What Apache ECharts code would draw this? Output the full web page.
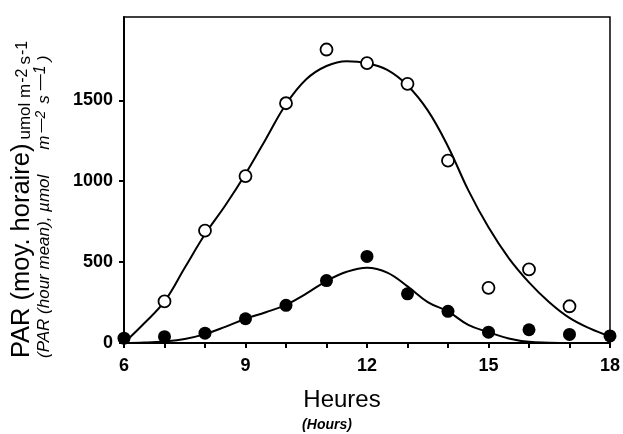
<!DOCTYPE html>
<html>
<head>
<meta charset="utf-8">
<script src="https://cdn.jsdelivr.net/npm/echarts@6/dist/echarts.min.js"></script>
<style>
  html, body { margin: 0; padding: 0; background: #fff; }
  #chart { width: 623px; height: 434px; }
</style>
</head>
<body>
<div id="chart"></div>
<script>
const hours = [6, 7, 8, 9, 10, 11, 12, 13, 14, 15, 16, 17, 18]
const openHours = [7, 8, 9, 10, 11, 12, 13, 14, 15, 16, 17]
const openPar = [257, 695, 1032, 1482, 1814, 1730, 1602, 1127, 341, 455, 227]
const filledPar = [30, 39, 61, 150, 233, 386, 535, 304, 196, 67, 82, 53, 44]

// fitted curves, read every half hour
const curveHours = [6, 6.5, 7, 7.5, 8, 8.5, 9, 9.5, 10, 10.5, 11, 11.5, 12,
  12.5, 13, 13.5, 14, 14.5, 15, 15.5, 16, 16.5, 17, 17.5, 18]
const openCurve = [0, 122, 257, 465, 672, 850, 1045, 1260, 1476, 1630, 1712, 1742, 1730,
  1688, 1592, 1438, 1215, 945, 715, 525, 375, 252, 155, 90, 40]
const filledCurve = [0, 3, 10, 25, 55, 100, 150, 190, 236, 305, 383, 440, 465,
  435, 350, 253, 195, 112, 67, 28, 7, 2, 0, 0, 0]

// axis ticks
const xLabelHours = [6, 9, 12, 15, 18]
const yTicks = [0, 500, 1000, 1500]

const zip = (xs, ys) => xs.map((x, i) => [x, ys[i]])

// measure text so the rotated title pieces can be laid out one after another
const ctx = document.createElement('canvas').getContext('2d')
const measure = (text, size, italic) => {
  ctx.font = `${italic ? 'italic ' : ''}${size}px "Liberation Sans"`
  return ctx.measureText(text).width
}

// vertical (bottom to top) run of text pieces sharing a baseline at baseX
function rotatedRun(parts, startY, baseX) {
  let y = startY
  return parts.map(p => {
    const el = {
      type: 'text',
      x: baseX - 0.33 * p.size - (p.raise || 0),
      y: y,
      rotation: Math.PI / 2,
      style: {
        text: p.text,
        align: 'left',
        verticalAlign: 'middle',
        fill: '#000',
        fontFamily: 'Liberation Sans',
        fontStyle: p.italic ? 'italic' : 'normal',
        fontSize: p.size,
      },
    }
    y -= measure(p.text, p.size, p.italic) + (p.gap || 0)
    return el
  })
}

const yTitle1 = rotatedRun([
  { text: 'PAR (moy. horaire)', size: 25.5, gap: 4 },
  { text: 'umol m', size: 17, gap: 1 },
  { text: '-2', size: 16, raise: 3, gap: 4 },
  { text: 's', size: 17, gap: 1 },
  { text: '-1', size: 16, raise: 3 },
], 358, 30.5)

const yTitle2 = rotatedRun([
  { text: '(PAR (hour mean), µmol', size: 17, italic: true, gap: 25 },
  { text: 'm', size: 17, italic: true, gap: 3 },
  { text: '—2', size: 14, italic: true, raise: 4, gap: 7 },
  { text: 's', size: 17, italic: true, gap: 5 },
  { text: '—1', size: 16, italic: true, raise: 4, gap: 4 },
  { text: ')', size: 17, italic: true },
], 358, 50)

const chart = echarts.init(document.getElementById('chart'))

const option = {
  animation: false,
  backgroundColor: '#fff',
  grid: {
    left: 124,
    right: 12,
    top: 17,
    bottom: 91,
    show: true,
    borderColor: '#000',
    borderWidth: 1.5,
  },
  xAxis: {
    type: 'value',
    min: 6,
    max: 18,
    interval: 1,
    splitLine: { show: false },
    axisLine: { lineStyle: { color: '#000', width: 2 } },
    axisTick: { length: 5, lineStyle: { color: '#000', width: 2 } },
    axisLabel: {
      margin: 14,
      color: '#000',
      fontFamily: 'Liberation Sans',
      fontWeight: 'bold',
      fontSize: 18,
      formatter: v => (xLabelHours.includes(v) ? String(v) : ''),
    },
  },
  yAxis: {
    type: 'value',
    min: 0,
    max: 2015,
    splitLine: { show: false },
    axisLine: { show: true, lineStyle: { color: '#000', width: 2 } },
    axisTick: { show: true, length: 5, customValues: yTicks, lineStyle: { color: '#000', width: 2 } },
    axisLabel: {
      margin: 11,
      color: '#000',
      fontFamily: 'Liberation Sans',
      fontWeight: 'bold',
      fontSize: 18,
      customValues: yTicks,
      formatter: v => String(v),
    },
  },
  graphic: [
    ...yTitle1,
    ...yTitle2,
    {
      type: 'text',
      x: 342,
      y: 400,
      style: {
        text: 'Heures',
        align: 'center',
        verticalAlign: 'middle',
        fill: '#000',
        fontFamily: 'Liberation Sans',
        fontSize: 24,
      },
    },
    {
      type: 'text',
      x: 327,
      y: 425,
      style: {
        text: '(Hours)',
        align: 'center',
        verticalAlign: 'middle',
        fill: '#000',
        fontFamily: 'Liberation Sans',
        fontStyle: 'italic',
        fontWeight: 'bold',
        fontSize: 14,
      },
    },
  ],
  series: [
    {
      name: 'open curve',
      type: 'line',
      smooth: 0.4,
      showSymbol: false,
      lineStyle: { color: '#000', width: 2 },
      data: zip(curveHours, openCurve),
      z: 2,
    },
    {
      name: 'filled curve',
      type: 'line',
      smooth: 0.4,
      showSymbol: false,
      lineStyle: { color: '#000', width: 2 },
      data: zip(curveHours, filledCurve),
      z: 2,
    },
    {
      name: 'open',
      type: 'scatter',
      symbol: 'circle',
      symbolSize: 12,
      itemStyle: { color: '#fff', borderColor: '#000', borderWidth: 1.8, opacity: 1 },
      data: zip(openHours, openPar),
      z: 3,
    },
    {
      name: 'filled',
      type: 'scatter',
      symbol: 'circle',
      symbolSize: 13,
      itemStyle: { color: '#000', opacity: 1 },
      data: zip(hours, filledPar),
      z: 4,
    },
  ],
}

chart.setOption(option)
</script>
</body>
</html>
